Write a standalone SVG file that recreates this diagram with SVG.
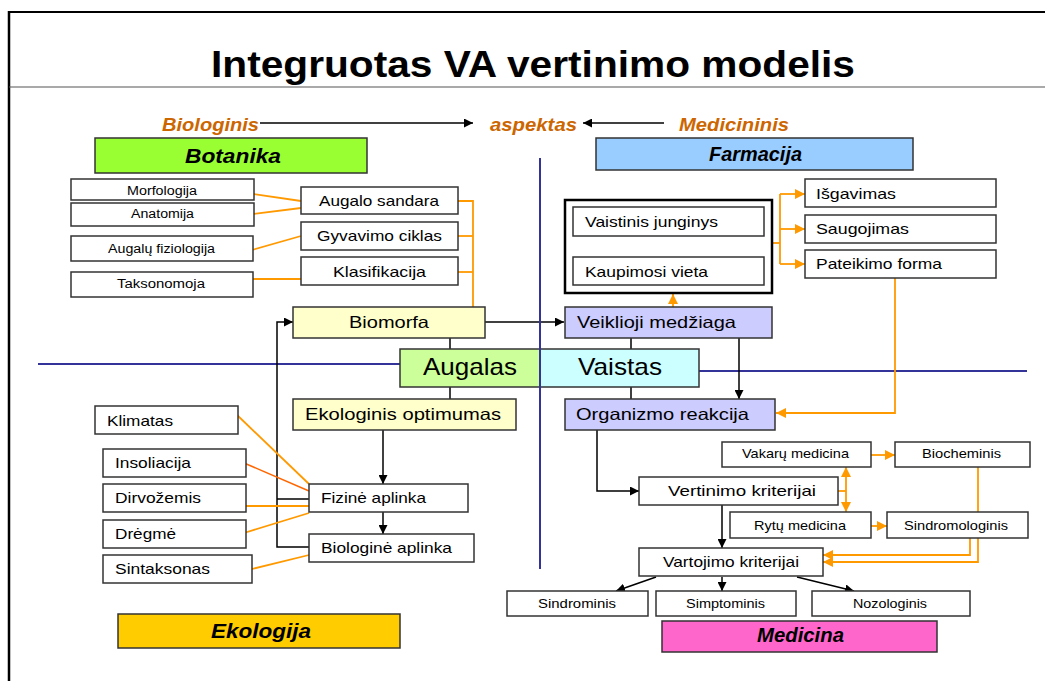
<svg xmlns="http://www.w3.org/2000/svg" width="1045" height="681" viewBox="0 0 1045 681">
<style>
text{font-family:"Liberation Sans",Arial,sans-serif;fill:#000}
.b{font-weight:bold}
.bi{font-weight:bold;font-style:italic}
.asp{font-weight:bold;font-style:italic;fill:#CC6600;font-size:18px}
.s{font-size:12.5px}
.m{font-size:15px}
.l{font-size:16.5px}
.r{font-size:13px}
.box{fill:#fff;stroke:#333;stroke-width:1.5}
.k{stroke:#000;stroke-width:1.5;fill:none}
.o{stroke:#FF9900;stroke-width:1.8;fill:none}
.bl{stroke:#333399;stroke-width:2;fill:none}
</style>
<defs>
<marker id="ak" viewBox="0 0 10 10" refX="10" refY="5" markerWidth="9" markerHeight="9" markerUnits="userSpaceOnUse" orient="auto"><path d="M0,0 L10,5 L0,10 z" fill="#000"/></marker>
<marker id="ao" viewBox="0 0 10 10" refX="10" refY="5" markerWidth="10" markerHeight="10" markerUnits="userSpaceOnUse" orient="auto"><path d="M0,0 L10,5 L0,10 z" fill="#FF9900"/></marker>
</defs>
<rect width="1045" height="681" fill="#fff"/>
<g id="frame">
<line x1="9" y1="12" x2="1045" y2="12" stroke="#000" stroke-width="2"/>
<line x1="9" y1="11" x2="9" y2="681" stroke="#000" stroke-width="2.5"/>
<line x1="9" y1="87" x2="1045" y2="87" stroke="#555" stroke-width="1.2"/>
<text x="211" y="77" class="b" font-size="37" textLength="644" lengthAdjust="spacingAndGlyphs">Integruotas VA vertinimo modelis</text>
</g>
<g id="aspect">
<text x="162" y="131" class="asp" textLength="97" lengthAdjust="spacingAndGlyphs">Biologinis</text>
<text x="490" y="131" class="asp" textLength="87" lengthAdjust="spacingAndGlyphs">aspektas</text>
<text x="679" y="131" class="asp" textLength="110" lengthAdjust="spacingAndGlyphs">Medicininis</text>
</g>
<g id="connectors">
<line x1="260" y1="123" x2="473" y2="123" class="k" stroke-width="1.2" marker-end="url(#ak)"/>
<line x1="664" y1="123" x2="583" y2="123" class="k" stroke-width="1.2" marker-end="url(#ak)"/>
<!-- blue axes -->
<line x1="38" y1="364" x2="400" y2="364" class="bl"/>
<line x1="699" y1="371" x2="1027" y2="371" class="bl"/>
<!-- botanika orange -->
<line x1="253" y1="194" x2="301" y2="201" class="o" stroke-width="1.5"/>
<line x1="253" y1="214" x2="301" y2="208" class="o" stroke-width="1.5"/>
<line x1="252" y1="250" x2="301" y2="236" class="o" stroke-width="1.5"/>
<line x1="252" y1="279" x2="301" y2="279" class="o" stroke-width="2"/>
<polyline points="458,201 473,201 473,307" class="o"/>
<line x1="458" y1="236" x2="473" y2="236" class="o"/>
<line x1="458" y1="272" x2="473" y2="272" class="o"/>
<!-- center black -->
<line x1="450" y1="338" x2="450" y2="349" class="k" stroke-width="2"/>
<line x1="450" y1="387" x2="450" y2="399" class="k" stroke-width="2"/>
<line x1="631" y1="338" x2="631" y2="349" class="k" stroke-width="2"/>
<line x1="631" y1="387" x2="631" y2="399" class="k" stroke-width="2"/>
<line x1="485" y1="322" x2="564" y2="322" class="k" marker-end="url(#ak)"/>
<line x1="739" y1="338" x2="739" y2="399" class="k" stroke-width="2" marker-end="url(#ak)"/>
<polyline points="309,547 277,547 277,322 293,322" class="k" stroke-width="2" marker-end="url(#ak)"/>
<line x1="277" y1="499" x2="309" y2="499" class="k" stroke-width="2"/>
<line x1="383" y1="430" x2="383" y2="484" class="k" marker-end="url(#ak)"/>
<line x1="383" y1="512" x2="383" y2="534" class="k" marker-end="url(#ak)"/>
<polyline points="597,430 597,491 639,491" class="k" stroke-width="2" marker-end="url(#ak)"/>
<line x1="722" y1="505" x2="722" y2="548" class="k" marker-end="url(#ak)"/>
<line x1="656" y1="577" x2="616" y2="591" class="k" marker-end="url(#ak)"/>
<line x1="722" y1="577" x2="722" y2="591" class="k" marker-end="url(#ak)"/>
<line x1="797" y1="577" x2="854" y2="591" class="k" marker-end="url(#ak)"/>
<!-- farmacija orange -->
<line x1="673" y1="307" x2="673" y2="294" class="o" marker-end="url(#ao)"/>
<line x1="772" y1="243" x2="780" y2="243" class="o"/>
<line x1="780" y1="194" x2="780" y2="264" class="o"/>
<line x1="780" y1="194" x2="805" y2="194" class="o" marker-end="url(#ao)"/>
<line x1="780" y1="229" x2="805" y2="229" class="o" marker-end="url(#ao)"/>
<line x1="780" y1="264" x2="805" y2="264" class="o" marker-end="url(#ao)"/>
<polyline points="895,278 895,413 776,413" class="o" marker-end="url(#ao)"/>
<!-- ecology orange -->
<line x1="236" y1="414" x2="309" y2="484" class="o" stroke-width="1.2"/>
<line x1="244" y1="463" x2="309" y2="491" stroke="#FF6600" stroke-width="1.5"/>
<line x1="244" y1="506" x2="309" y2="506" class="o" stroke-width="2.8"/>
<line x1="244" y1="533" x2="309" y2="513" class="o" stroke-width="1.5"/>
<line x1="252" y1="569" x2="309" y2="555" class="o" stroke-width="1.5"/>
<!-- medicina orange -->
<line x1="838" y1="491" x2="846" y2="491" class="o"/>
<line x1="846" y1="491" x2="846" y2="467" class="o" marker-end="url(#ao)"/>
<line x1="846" y1="491" x2="846" y2="512" class="o" marker-end="url(#ao)"/>
<line x1="871" y1="455" x2="895" y2="455" class="o" marker-end="url(#ao)"/>
<line x1="871" y1="526" x2="887" y2="526" class="o" marker-end="url(#ao)"/>
<line x1="978" y1="467" x2="978" y2="512" class="o"/>
<polyline points="970,538 970,555 823,555" class="o" marker-end="url(#ao)"/>
<polyline points="978,538 978,562 823,562" class="o" marker-end="url(#ao)"/>
</g>
<g id="botanika"><rect x="95" y="138" width="272" height="35" fill="#99FF33" stroke="#333" stroke-width="1.5"/><text x="185" y="163" class="bi" font-size="20" textLength="96" lengthAdjust="spacingAndGlyphs">Botanika</text></g>
<g id="farmacija"><rect x="596" y="138" width="317" height="32" fill="#99CCFF" stroke="#333" stroke-width="1.5"/><text x="709" y="161" class="bi" font-size="20" textLength="93" lengthAdjust="spacingAndGlyphs">Farmacija</text></g>
<g id="morfologija"><rect x="71" y="179" width="183" height="21" class="box"/><text x="127" y="195" class="s" textLength="70" lengthAdjust="spacingAndGlyphs">Morfologija</text></g>
<g id="anatomija"><rect x="71" y="203" width="183" height="23" class="box"/><text x="131" y="218" class="s" textLength="63" lengthAdjust="spacingAndGlyphs">Anatomija</text></g>
<g id="fiziologija"><rect x="71" y="236" width="182" height="25" class="box"/><text x="108" y="253" class="s" textLength="107" lengthAdjust="spacingAndGlyphs">Augalų fiziologija</text></g>
<g id="taksonomoja"><rect x="71" y="272" width="182" height="25" class="box"/><text x="117" y="288" class="s" textLength="88" lengthAdjust="spacingAndGlyphs">Taksonomoja</text></g>
<g id="augalo-sandara"><rect x="301" y="187" width="157" height="27" class="box"/><text x="319" y="206" class="m" textLength="120" lengthAdjust="spacingAndGlyphs">Augalo sandara</text></g>
<g id="gyvavimo-ciklas"><rect x="301" y="222" width="157" height="28" class="box"/><text x="317" y="241" class="m" textLength="125" lengthAdjust="spacingAndGlyphs">Gyvavimo ciklas</text></g>
<g id="klasifikacija"><rect x="301" y="257" width="157" height="28" class="box"/><text x="333" y="277" class="m" textLength="93" lengthAdjust="spacingAndGlyphs">Klasifikacija</text></g>
<g id="biomorfa"><rect x="293" y="307" width="192" height="31" fill="#FFFFCC" stroke="#333" stroke-width="1.5"/><text x="349" y="328" class="l" textLength="80" lengthAdjust="spacingAndGlyphs">Biomorfa</text></g>
<g id="medziaga-box"><rect x="565" y="200" width="207" height="93" fill="#fff" stroke="#000" stroke-width="2.5"/></g>
<g id="vaistinis"><rect x="573" y="207" width="191" height="29" class="box"/><text x="585" y="227" class="m" textLength="133" lengthAdjust="spacingAndGlyphs">Vaistinis junginys</text></g>
<g id="kaupimosi"><rect x="573" y="257" width="191" height="28" class="box"/><text x="585" y="277" class="m" textLength="123" lengthAdjust="spacingAndGlyphs">Kaupimosi vieta</text></g>
<g id="isgavimas"><rect x="805" y="179" width="191" height="28" class="box"/><text x="816" y="199" class="m" textLength="80" lengthAdjust="spacingAndGlyphs">Išgavimas</text></g>
<g id="saugojimas"><rect x="805" y="215" width="191" height="28" class="box"/><text x="816" y="234" class="m" textLength="93" lengthAdjust="spacingAndGlyphs">Saugojimas</text></g>
<g id="pateikimo"><rect x="805" y="250" width="191" height="28" class="box"/><text x="816" y="269" class="m" textLength="126" lengthAdjust="spacingAndGlyphs">Pateikimo forma</text></g>
<g id="veiklioji"><rect x="565" y="307" width="207" height="31" fill="#CCCCFF" stroke="#333" stroke-width="1.5"/><text x="577" y="328" class="l" textLength="159" lengthAdjust="spacingAndGlyphs">Veiklioji medžiaga</text></g>
<g id="augalas"><rect x="400" y="349" width="140" height="38" fill="#CCFF99" stroke="#333" stroke-width="1.5"/><text x="423" y="375" font-size="24" textLength="94" lengthAdjust="spacingAndGlyphs">Augalas</text></g>
<g id="vaistas"><rect x="540" y="349" width="159" height="38" fill="#CCFFFF" stroke="#333" stroke-width="1.5"/><text x="578" y="375" font-size="24" textLength="84" lengthAdjust="spacingAndGlyphs">Vaistas</text></g>
<g id="ekologinis"><rect x="293" y="399" width="223" height="31" fill="#FFFFCC" stroke="#333" stroke-width="1.5"/><text x="305" y="420" class="l" textLength="196" lengthAdjust="spacingAndGlyphs">Ekologinis optimumas</text></g>
<g id="organizmo"><rect x="565" y="399" width="210" height="31" fill="#CCCCFF" stroke="#333" stroke-width="1.5"/><text x="576" y="420" class="l" textLength="173" lengthAdjust="spacingAndGlyphs">Organizmo reakcija</text></g>
<g id="klimatas"><rect x="95" y="406" width="143" height="28" class="box"/><text x="107" y="426" class="m" textLength="66" lengthAdjust="spacingAndGlyphs">Klimatas</text></g>
<g id="insoliacija"><rect x="103" y="449" width="143" height="28" class="box"/><text x="115" y="468" class="m" textLength="76" lengthAdjust="spacingAndGlyphs">Insoliacija</text></g>
<g id="dirvozemis"><rect x="103" y="484" width="143" height="28" class="box"/><text x="115" y="503" class="m" textLength="86" lengthAdjust="spacingAndGlyphs">Dirvožemis</text></g>
<g id="dregme"><rect x="103" y="520" width="143" height="28" class="box"/><text x="115" y="539" class="m" textLength="61" lengthAdjust="spacingAndGlyphs">Drėgmė</text></g>
<g id="sintaksonas"><rect x="103" y="555" width="149" height="28" class="box"/><text x="115" y="574" class="m" textLength="95" lengthAdjust="spacingAndGlyphs">Sintaksonas</text></g>
<g id="fizine"><rect x="309" y="484" width="159" height="28" class="box"/><text x="321" y="503" class="m" textLength="105" lengthAdjust="spacingAndGlyphs">Fizinė aplinka</text></g>
<g id="biologine"><rect x="309" y="534" width="165" height="28" class="box"/><text x="321" y="553" class="m" textLength="131" lengthAdjust="spacingAndGlyphs">Biologinė aplinka</text></g>
<g id="ekologija"><rect x="118" y="614" width="282" height="34" fill="#FFCC00" stroke="#333" stroke-width="1.5"/><text x="211" y="638" class="bi" font-size="20" textLength="100" lengthAdjust="spacingAndGlyphs">Ekologija</text></g>
<g id="vakaru"><rect x="722" y="442" width="149" height="25" class="box"/><text x="742" y="458" class="r" textLength="107" lengthAdjust="spacingAndGlyphs">Vakarų medicina</text></g>
<g id="biocheminis"><rect x="895" y="442" width="135" height="25" class="box"/><text x="922" y="458" class="r" textLength="79" lengthAdjust="spacingAndGlyphs">Biocheminis</text></g>
<g id="vertinimo"><rect x="639" y="477" width="199" height="28" class="box"/><text x="668" y="496" class="m" textLength="148" lengthAdjust="spacingAndGlyphs">Vertinimo kriterijai</text></g>
<g id="rytu"><rect x="730" y="512" width="141" height="26" class="box"/><text x="754" y="530" class="r" textLength="92" lengthAdjust="spacingAndGlyphs">Rytų medicina</text></g>
<g id="sindromologinis"><rect x="887" y="512" width="141" height="26" class="box"/><text x="904" y="530" class="r" textLength="104" lengthAdjust="spacingAndGlyphs">Sindromologinis</text></g>
<g id="vartojimo"><rect x="639" y="548" width="184" height="28" class="box"/><text x="663" y="567" class="m" textLength="136" lengthAdjust="spacingAndGlyphs">Vartojimo kriterijai</text></g>
<g id="sindrominis"><rect x="507" y="591" width="141" height="25" class="box"/><text x="538" y="608" class="r" textLength="78" lengthAdjust="spacingAndGlyphs">Sindrominis</text></g>
<g id="simptominis"><rect x="656" y="591" width="140" height="25" class="box"/><text x="686" y="608" class="r" textLength="79" lengthAdjust="spacingAndGlyphs">Simptominis</text></g>
<g id="nozologinis"><rect x="812" y="591" width="158" height="25" class="box"/><text x="853" y="608" class="r" textLength="74" lengthAdjust="spacingAndGlyphs">Nozologinis</text></g>
<g id="medicina"><rect x="662" y="621" width="275" height="31" fill="#FF66CC" stroke="#333" stroke-width="1.5"/><text x="757" y="642" class="bi" font-size="20" textLength="87" lengthAdjust="spacingAndGlyphs">Medicina</text></g>
<g id="axis-v"><line x1="540" y1="158" x2="540" y2="569" class="bl"/></g>
</svg>
